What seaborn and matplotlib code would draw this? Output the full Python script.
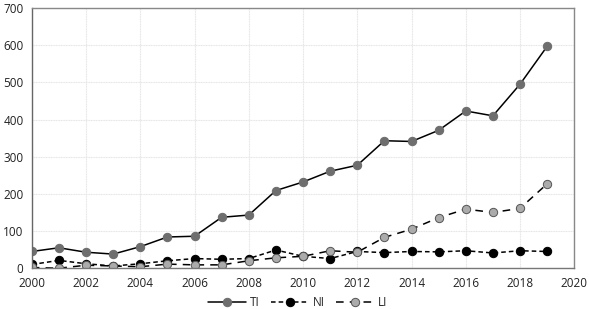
import pandas as pd
import matplotlib.pyplot as plt
import seaborn as sns

years = list(range(2000, 2020))
ti = [45, 55, 43, 38, 58, 84, 86, 137, 143, 209, 232, 261, 277, 343, 341, 371, 423, 410, 495, 597]
ni = [10, 21, 12, 6, 12, 20, 26, 24, 26, 49, 32, 26, 45, 42, 45, 44, 47, 41, 47, 45]
li = [2, 0, 8, 6, 4, 11, 9, 9, 20, 28, 32, 47, 43, 83, 105, 136, 159, 150, 161, 227]

data = pd.DataFrame({"Year": years, "TI": ti, "NI": ni, "LI": li})

sns.set_style("white")
plt.rcParams["font.family"] = ["Open Sans", "DejaVu Sans"]

fig, ax = plt.subplots(figsize=(5.89, 3.09), dpi=100)
fig.subplots_adjust(left=0.054, right=0.975, top=0.974, bottom=0.132)

sns.lineplot(data=data, x="Year", y="TI", ax=ax, color="black", lw=1.1,
             marker="o", markersize=6, markerfacecolor="#6e6e6e",
             markeredgecolor="#6e6e6e", label="TI")
sns.lineplot(data=data, x="Year", y="NI", ax=ax, color="black", lw=1.1,
             linestyle=(0, (3, 2)), marker="o", markersize=6,
             markerfacecolor="black", markeredgecolor="black", label="NI")
sns.lineplot(data=data, x="Year", y="LI", ax=ax, color="black", lw=1.1,
             linestyle=(0, (5, 4)), marker="o", markersize=6,
             markerfacecolor="#ababab", markeredgecolor="#555555",
             markeredgewidth=0.7, label="LI")

ax.set_xlim(2000, 2020)
ax.set_ylim(0, 700)
ax.set_xticks(range(2000, 2021, 2))
ax.set_yticks(range(0, 701, 100))
ax.set_xlabel("")
ax.set_ylabel("")
ax.grid(True, color="#e6e6e6", lw=0.8, linestyle=(0, (1, 0.5)))
ax.tick_params(labelsize=8.5, length=0, colors="#222222")
ax.tick_params(axis="y", pad=6)
ax.tick_params(axis="x", pad=6)
for s in ax.spines.values():
    s.set_color("#888888")
    s.set_linewidth(1.0)
ax.spines["left"].set_color("#666666")
ax.spines["bottom"].set_color("#777777")

ax.legend(loc="lower center", bbox_to_anchor=(0.49, -0.185), ncol=3,
          frameon=False, fontsize=8.5, handlelength=3.2, columnspacing=1.0,
          handletextpad=0.3, borderpad=0.1)

plt.savefig("out.png", dpi=100)
